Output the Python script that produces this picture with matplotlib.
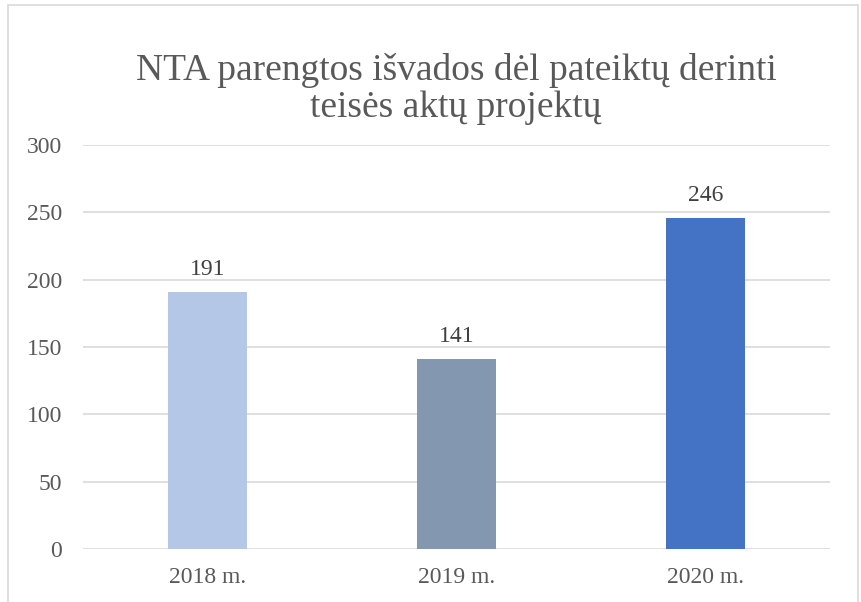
import matplotlib.pyplot as plt
from matplotlib.patches import Rectangle

# Chart data
years = ['2018 m.', '2019 m.', '2020 m.']
values = [191, 141, 246]
bar_colors = ['#B4C7E7', '#8497B0', '#4472C4']
y_ticks = [0, 50, 100, 150, 200, 250, 300]
title = 'NTA parengtos išvados dėl pateiktų derinti\nteisės aktų projektų'

plt.rcParams['font.family'] = ['Liberation Serif', 'DejaVu Serif']

fig = plt.figure(figsize=(8.62, 6.02), dpi=100)
ax = fig.add_axes([0.0963, 0.088, 0.8667, 0.671])

# light outer frame like the office chart area
fig.patches.append(Rectangle((8 / 862, -0.05), 850 / 862, 1.05 - 5 / 602,
                             transform=fig.transFigure, fill=False,
                             edgecolor='#D9D9D9', linewidth=1.2))

x = range(len(years))
bars = ax.bar(x, values, width=0.317, color=bar_colors, zorder=3)

for bar, v in zip(bars, values):
    ax.text(bar.get_x() + bar.get_width() / 2, v + 12.5, str(v),
            ha='center', va='baseline', fontsize=17, color='#404040')

ax.set_xlim(-0.5, 2.5)
ax.set_ylim(0, 300)
ax.set_yticks(y_ticks)
ax.set_xticks(list(x))
ax.set_xticklabels(years)
ax.tick_params(axis='both', length=0, labelsize=17, colors='#595959')
ax.tick_params(axis='y', pad=15)
ax.tick_params(axis='x', pad=13)
ax.grid(True, axis='y', color='#D9D9D9', linewidth=1.2, zorder=0)
for s in ax.spines.values():
    s.set_visible(False)

fig.text(0.529, 1 - 89 / 602, title, ha='center', va='center',
         fontsize=27, color='#595959', linespacing=1.1)

fig.savefig('out.png', dpi=100)
